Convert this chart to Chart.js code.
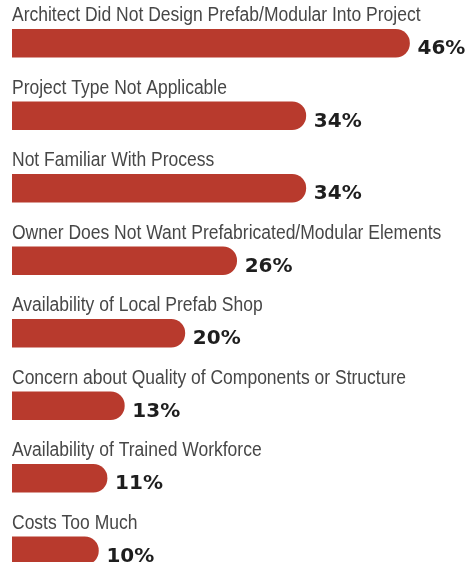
<!DOCTYPE html>
<html>
<head>
<meta charset="utf-8">
<script src="https://cdn.jsdelivr.net/npm/chart.js@4.4.1/dist/chart.umd.min.js"></script>
<style>
    html, body { margin: 0; padding: 0; background: #fff; overflow: hidden; }
    #wrap { width: 470px; height: 600px; }
</style>
</head>
<body>
<div id="wrap"><canvas id="barChart" width="470" height="600"></canvas></div>
<script>
// Reasons for not using prefab/modular, share of respondents
const reasons = [
    'Architect Did Not Design Prefab/Modular Into Project',
    'Project Type Not Applicable',
    'Not Familiar With Process',
    'Owner Does Not Want Prefabricated/Modular Elements',
    'Availability of Local Prefab Shop',
    'Concern about Quality of Components or Structure',
    'Availability of Trained Workforce',
    'Costs Too Much'
];
const shares = [46, 34, 34, 26, 20, 13, 11, 10];

const BAR_RED = '#b83a2d';

// draws the category name above each bar and the % value after it
const barLabels = {
    id: 'barLabels',
    afterDatasetsDraw(chart) {
        const { ctx } = chart;
        const meta = chart.getDatasetMeta(0);
        ctx.save();
        meta.data.forEach((bar, i) => {
            const top = bar.y - bar.height / 2;

            // narrow label: squeeze regular sans horizontally
            ctx.save();
            ctx.font = '20px "Liberation Sans", Arial, sans-serif';
            ctx.fillStyle = '#474747';
            ctx.textAlign = 'left';
            ctx.textBaseline = 'alphabetic';
            ctx.translate(12, top - 8);
            ctx.scale(0.875, 1);
            ctx.fillText(reasons[i], 0, 0);
            ctx.restore();

            ctx.font = 'bold 20px "DejaVu Sans", sans-serif';
            ctx.fillStyle = '#1e1e1e';
            ctx.textAlign = 'left';
            ctx.textBaseline = 'alphabetic';
            ctx.fillText(shares[i] + '%', bar.x + 8, bar.y + 11);
        });
        ctx.restore();
    }
};

new Chart(document.getElementById('barChart').getContext('2d'), {
    type: 'bar',
    data: {
        labels: reasons,
        datasets: [{
            data: shares,
            backgroundColor: BAR_RED,
            borderRadius: 20,
            borderSkipped: 'start',
            barThickness: 28
        }]
    },
    options: {
        indexAxis: 'y',
        responsive: false,
        animation: false,
        layout: { padding: { top: 7, bottom: 13, left: 12, right: 0 } },
        plugins: { legend: { display: false }, tooltip: { enabled: false } },
        scales: {
            x: { min: 0, max: 53, display: false },
            y: { display: false, offset: true }
        }
    },
    plugins: [barLabels]
});
</script>
</body>
</html>
